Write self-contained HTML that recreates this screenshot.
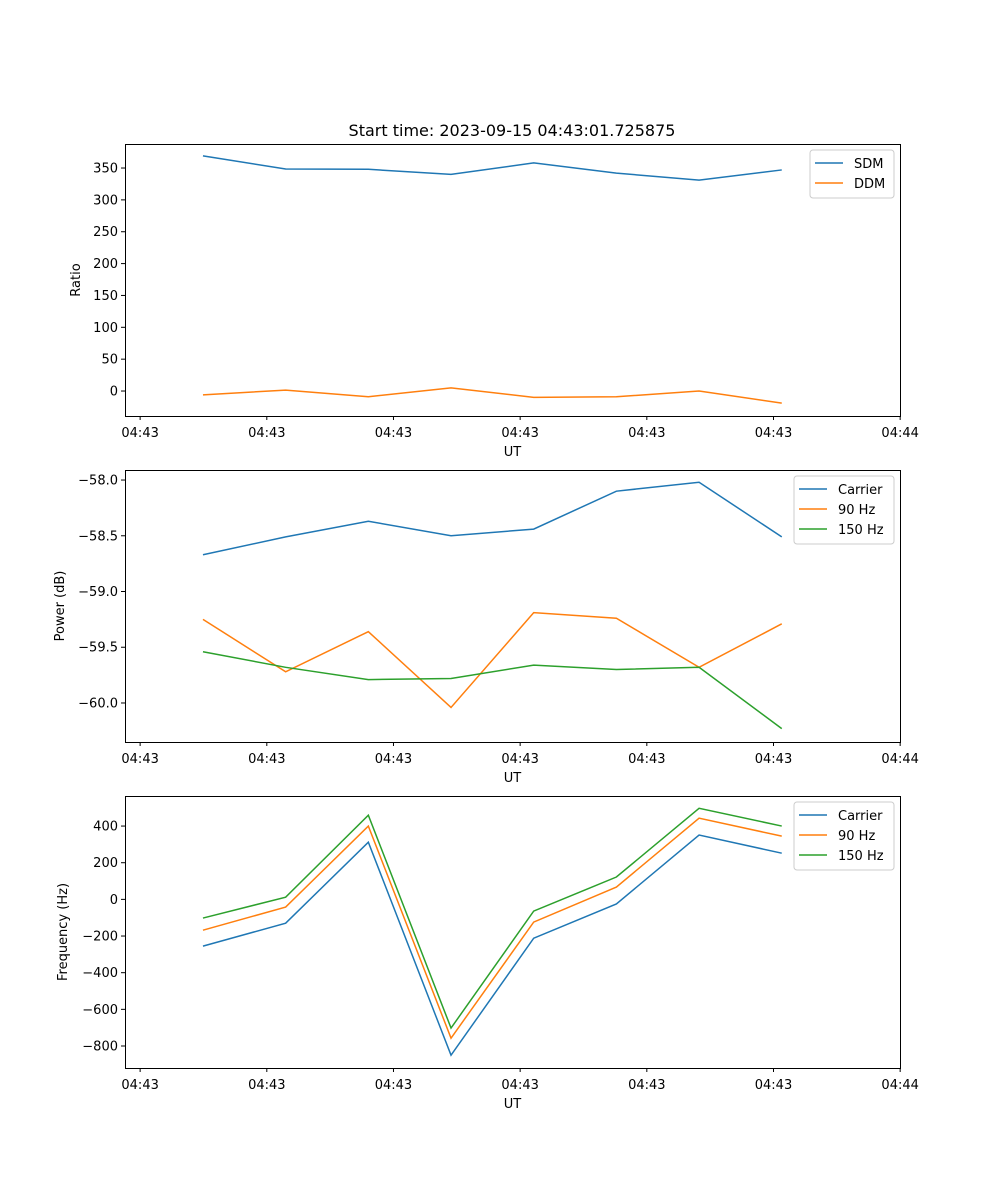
<!DOCTYPE html>
<html><head><meta charset="utf-8">
<style>
body{margin:0;background:#fff;}
svg{display:block;font-family:"DejaVu Sans","Liberation Sans",sans-serif;}
</style></head>
<body>
<svg id="fig" width="1000" height="1200" viewBox="0 0 1000 1200">
<rect width="1000" height="1200" fill="#fff"/>
<text x="512" y="136" font-size="16" text-anchor="middle">Start time: 2023-09-15 04:43:01.725875</text>
</svg>
<script>
const xIndex = [0,1,2,3,4,5,6,7];
const xTickLabels = ["04:43","04:43","04:43","04:43","04:43","04:43","04:44"];
const xTickValues = [-0.76,0.772,2.304,3.836,5.368,6.9,8.432];
const sdm = [369,348.5,348,340,358,342,331,347];
const ddm = [-6,1.5,-9,5,-10,-9,0,-19];
const yTicks1 = [350,300,250,200,150,100,50,0];
const pwrCarrier = [-58.67,-58.51,-58.37,-58.50,-58.44,-58.10,-58.02,-58.51];
const pwr90 = [-59.25,-59.72,-59.36,-60.04,-59.19,-59.24,-59.68,-59.29];
const pwr150 = [-59.54,-59.68,-59.79,-59.78,-59.66,-59.70,-59.68,-60.23];
const yTicks2 = [-58.0,-58.5,-59.0,-59.5,-60.0];
const frqCarrier = [-255,-130,312,-850,-212,-25,351,252];
const frq90 = [-168,-42,400,-757,-124,67,443,345];
const frq150 = [-102,12,459,-702,-64,122,497,400];
const yTicks3 = [400,200,0,-200,-400,-600,-800];

const NS="http://www.w3.org/2000/svg";
const svg=document.getElementById('fig');
function mk(tag,attrs,parent){const e=document.createElementNS(NS,tag);for(const k in attrs)e.setAttribute(k,attrs[k]);(parent||svg).appendChild(e);return e;}
const L=125,R=900,xmin=-0.943,xmax=8.43;
const xs=v=>L+(v-xmin)/(xmax-xmin)*(R-L);
const C=["#1f77b4","#ff7f0e","#2ca02c"];

function panel(name,top,bot,ymin,ymax,yticks,fmt,series,labels,ylabel,legend){
  const g=mk('g',{});
  
  
  const ys=v=>bot-(v-ymin)/(ymax-ymin)*(bot-top);
  series.forEach((s,i)=>{
    const p=mk('polyline',{points:s.map((v,j)=>xs(xIndex[j])+','+ys(v)).join(' '),fill:'none',stroke:C[i],'stroke-width':1.5},g);
    
    
  });
  mk('rect',{x:L+0.5,y:top+0.5,width:R-L,height:bot-top,fill:'none',stroke:'#000','stroke-width':1},g);
  xTickValues.forEach((v,i)=>{
    const x=xs(v);
    mk('line',{x1:x,x2:x,y1:bot,y2:bot+4,stroke:'#000','stroke-width':1},g);
    const t=mk('text',{x:x,y:bot+21,'font-size':13,'text-anchor':'middle'},g);
    t.textContent=xTickLabels[i];
    
    
  });
  yticks.forEach(v=>{
    const y=ys(v);
    mk('line',{x1:L-4,x2:L,y1:y,y2:y,stroke:'#000','stroke-width':1},g);
    const t=mk('text',{x:L-7,y:y+4.5,'font-size':13,'text-anchor':'end'},g);
    t.textContent=fmt(v);
    
    
  });
  const xl=mk('text',{x:(L+R)/2,y:bot+40,'font-size':13,'text-anchor':'middle'},g);
  xl.textContent='UT';
  
  
  const yl=mk('text',{x:0,y:0,'font-size':13,'text-anchor':'middle',transform:`translate(${legend.yx},${(top+bot)/2}) rotate(-90)`},g);
  yl.textContent=ylabel;
  
  
  const lg=mk('g',{},g);
  
  
  const h=labels.length*20+8;
  mk('rect',{x:legend.x,y:top+6,width:R-6-legend.x,height:h,rx:3,fill:'#fff','fill-opacity':0.8,stroke:'#ccc'},lg);
  labels.forEach((lb,i)=>{
    const y=top+19+i*20;
    mk('line',{x1:legend.x+5,x2:legend.x+33,y1:y,y2:y,stroke:C[i],'stroke-width':1.5},lg);
    const t=mk('text',{x:legend.x+44,y:y+5,'font-size':13},lg);
    t.textContent=lb;
    
    
  });
}
const minus=s=>s.replace('-','\u2212');
panel('ratio-panel',144,416,-39.2,387.7,yTicks1,v=>minus(String(v)),[sdm,ddm],['SDM','DDM'],'Ratio',{x:810,yx:80});
panel('power-panel',470,742,-60.35,-57.91,yTicks2,v=>minus(v.toFixed(1)),[pwrCarrier,pwr90,pwr150],['Carrier','90 Hz','150 Hz'],'Power (dB)',{x:794,yx:64});
panel('frequency-panel',796,1068,-920,564,yTicks3,v=>minus(String(v)),[frqCarrier,frq90,frq150],['Carrier','90 Hz','150 Hz'],'Frequency (Hz)',{x:794,yx:67});
</script>
</body></html>
